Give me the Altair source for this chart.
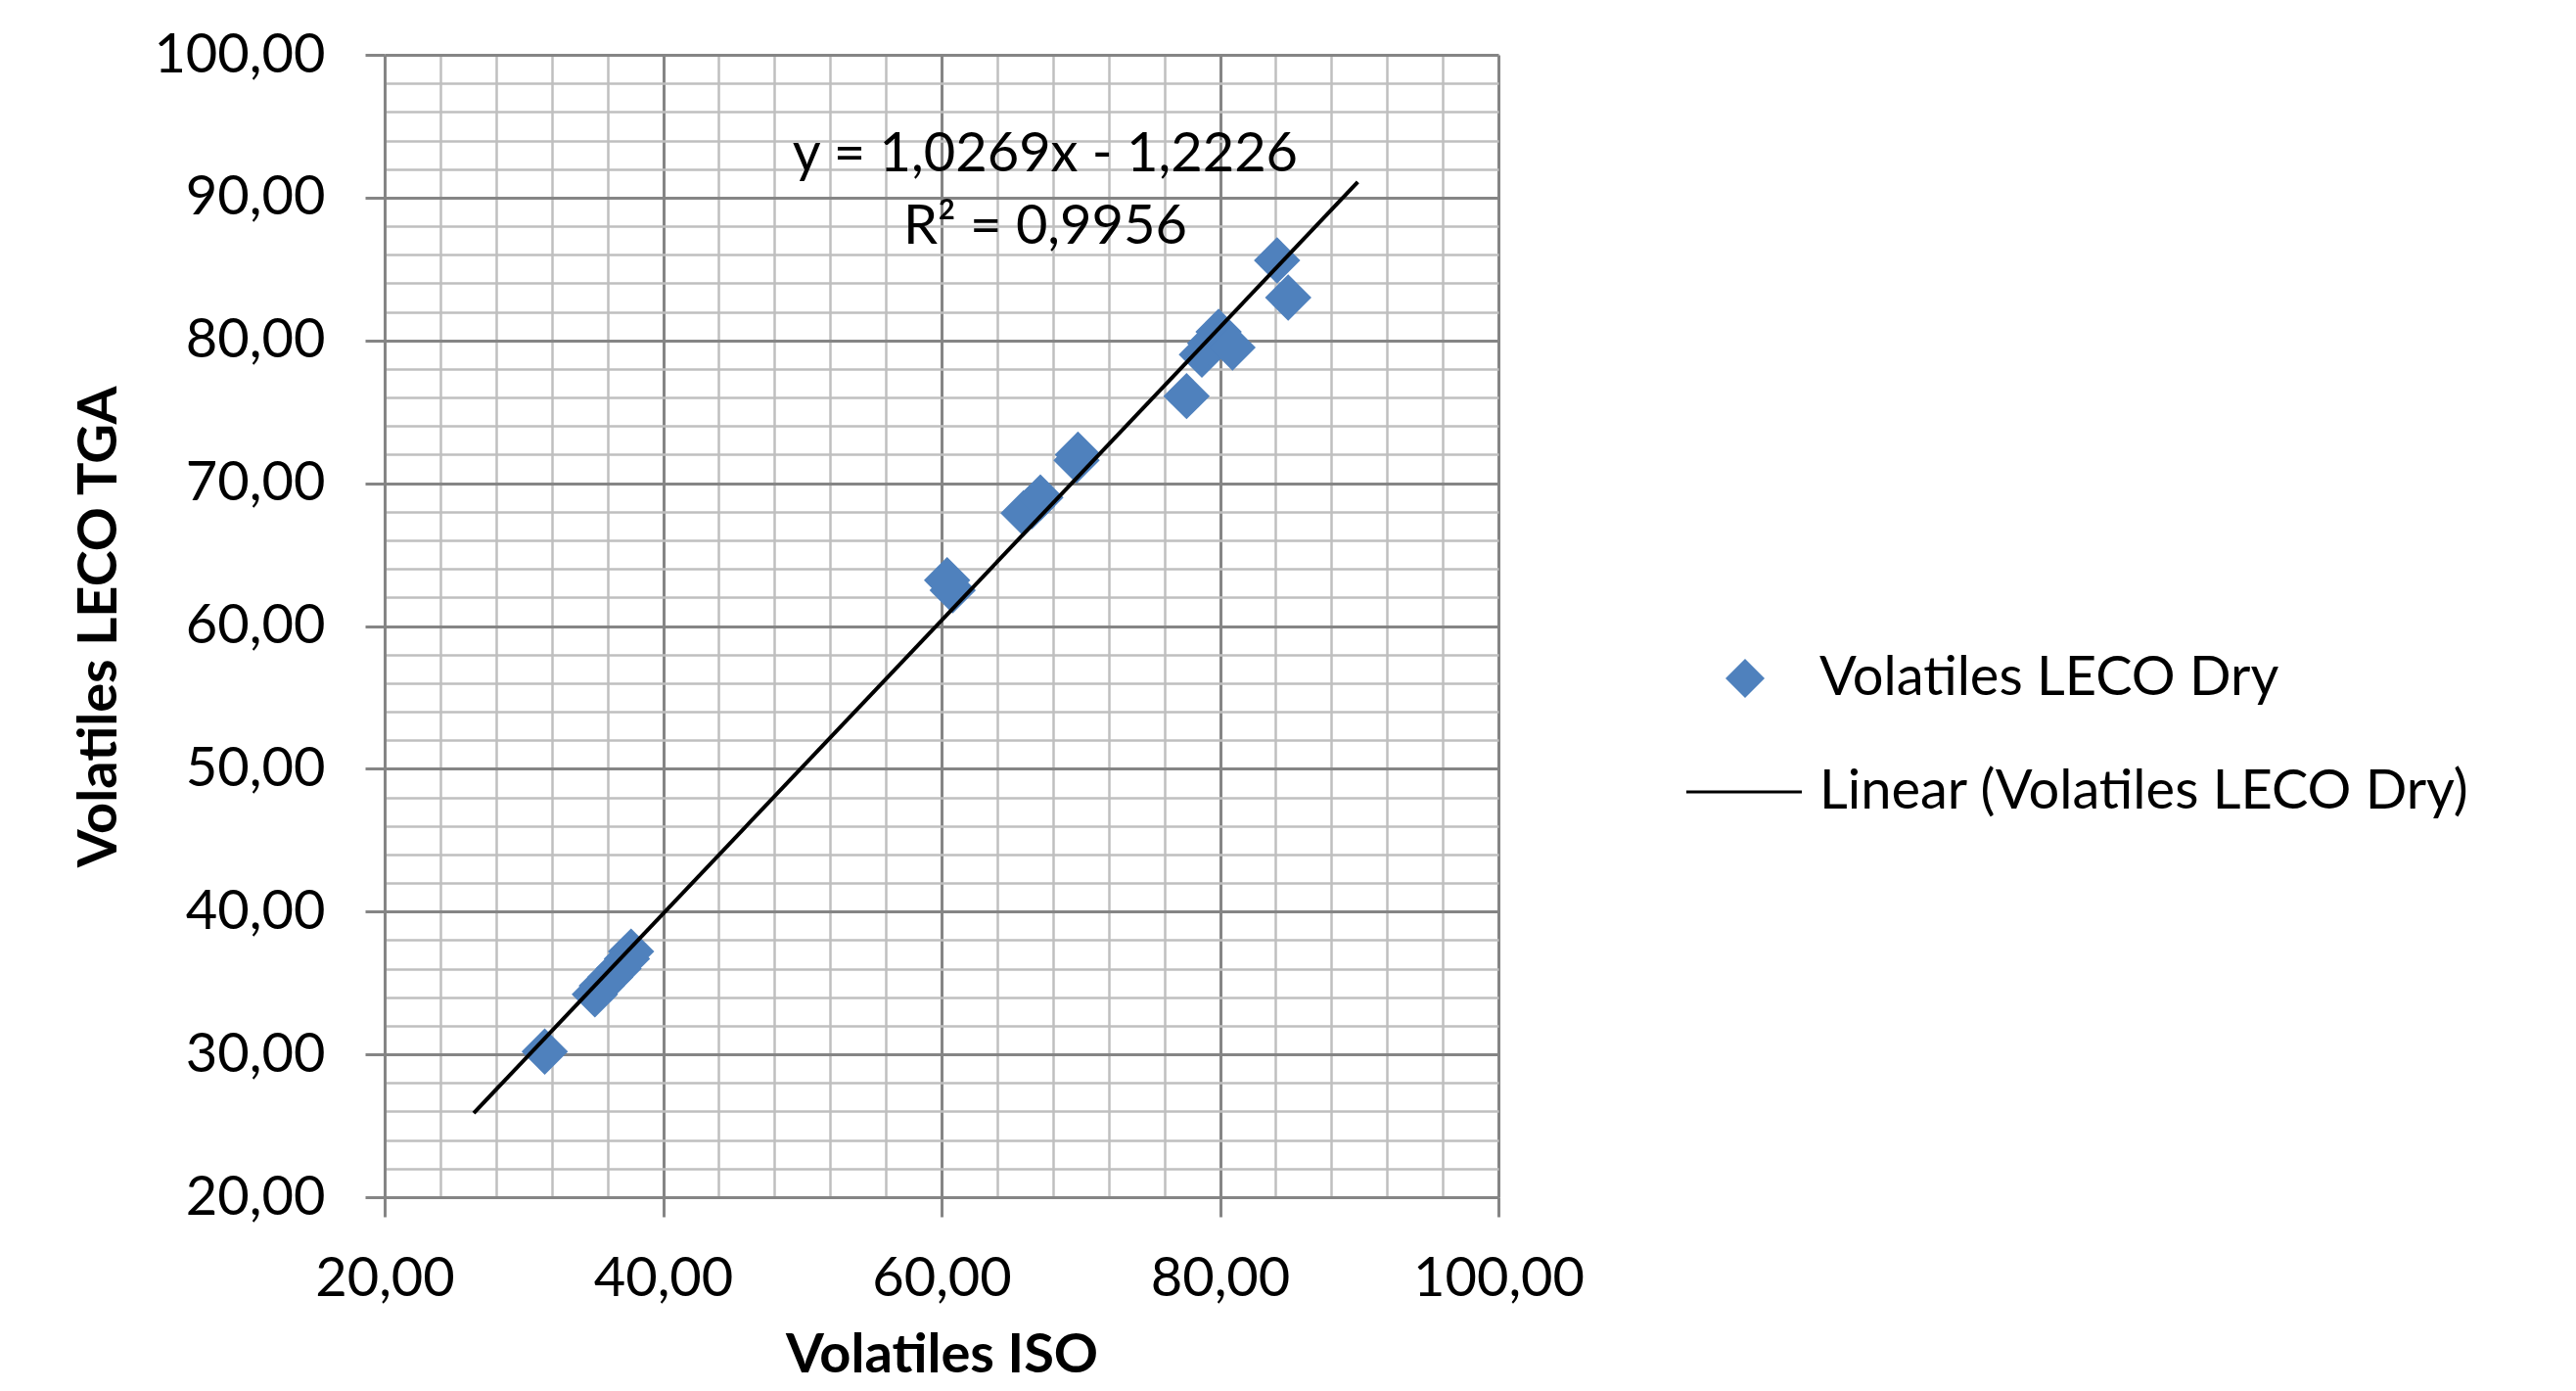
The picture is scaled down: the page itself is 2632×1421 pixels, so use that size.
import altair as alt
import pandas as pd

# ---- data ----
iso_x = [31.5, 35.1, 35.6, 36.2, 36.8, 37.4, 37.7, 60.4, 60.8, 65.9, 66.5, 67.1,
         69.7, 69.8, 77.6, 78.7, 79.3, 79.9, 80.9, 84.1, 84.9]
leco_y = [30.2, 34.2, 34.8, 35.4, 36.0, 36.7, 37.2, 63.2, 62.5, 67.9, 68.4, 69.0,
          71.6, 72.0, 76.1, 79.0, 79.8, 80.6, 79.5, 85.6, 83.0]

trend_x = [26.4, 89.9]
slope = 1.0269
intercept = -1.2226
r_squared = 0.9956

series_names = ["Volatiles LECO Dry", "Linear (Volatiles LECO Dry)"]
x_major = [20, 40, 60, 80, 100]
y_major = [20, 30, 40, 50, 60, 70, 80, 90, 100]
x_minor = [v for v in range(20, 101, 4) if v % 20]
y_minor = [v for v in range(20, 101, 2) if v % 10]

FONT = "Lato"
FS = 56
BLUE = "#4F81BD"

pts = pd.DataFrame({"iso": iso_x, "leco": leco_y, "series": series_names[0]})
trend = pd.DataFrame({
    "iso": trend_x,
    "leco": [slope * v + intercept for v in trend_x],
    "series": series_names[1],
})
eq_text = ("y = %.4fx - %.4f" % (slope, abs(intercept))).replace(".", ",")
r2_text = ("R² = %.4f" % r_squared).replace(".", ",")
labels = pd.DataFrame({"t": [eq_text]})
labels2 = pd.DataFrame({"t": [r2_text]})

xscale = alt.Scale(domain=[20, 100], nice=False, zero=False)
yscale = alt.Scale(domain=[20, 100], nice=False, zero=False)
LABEL_EXPR = "replace(format(datum.value, '.2f'), '.', ',')"

line_path = "M-3.0,-0.08L2.9,-0.08L2.9,0.08L-3.0,0.08Z"
legend = alt.Legend(
    title=None, orient="none", legendX=1362, legendY=609, padding=0,
    labelFont=FONT, labelFontSize=FS, labelColor="black", labelOffset=48,
    labelLimit=0, symbolSize=1600, rowPadding=60, symbolStrokeWidth=0,
)
color = alt.Color("series:N", scale=alt.Scale(domain=series_names, range=[BLUE, "#000000"]),
                  legend=legend)
shape = alt.Shape("series:N", scale=alt.Scale(domain=series_names, range=["diamond", line_path]),
                  legend=legend)

minor_x_axis = alt.Axis(orient="bottom", values=x_minor, grid=True, gridColor="#BFBFBF",
                        gridWidth=2.5, labels=False, ticks=False, domain=False, title=None)
minor_y_axis = alt.Axis(orient="left", values=y_minor, grid=True, gridColor="#BFBFBF",
                        gridWidth=2.5, labels=False, ticks=False, domain=False, title=None)

major_x_axis = alt.Axis(
    orient="bottom", values=x_major, grid=True, gridColor="#858585", gridWidth=3,
    domain=True, domainColor="#858585", domainWidth=3,
    ticks=True, tickSize=20, tickColor="#858585", tickWidth=3,
    labelExpr=LABEL_EXPR, labelFont=FONT, labelFontSize=FS, labelColor="black",
    labelPadding=36, labelBaseline="top", labelFlush=False,
    title="Volatiles ISO", titleFont=FONT, titleFontSize=FS, titleFontWeight="bold",
    titleColor="black", titleX=569, titleY=161, titleBaseline="middle", titleAlign="center",
)
major_y_axis = alt.Axis(
    orient="left", values=y_major, grid=True, gridColor="#858585", gridWidth=3,
    domain=True, domainColor="#858585", domainWidth=3,
    ticks=True, tickSize=20, tickColor="#858585", tickWidth=3,
    labelExpr=LABEL_EXPR, labelFont=FONT, labelFontSize=FS, labelColor="black",
    labelPadding=41, labelFlush=False,
    title="Volatiles LECO TGA", titleFont=FONT, titleFontSize=FS, titleFontWeight="bold",
    titleColor="black", titleX=-292, titleY=584, titleAngle=270,
    titleBaseline="middle", titleAlign="center",
)

points_layer = alt.Chart(pts).mark_point(filled=True, opacity=1, size=2250, strokeWidth=0).encode(
    x=alt.X("iso:Q", scale=xscale, axis=minor_x_axis),
    y=alt.Y("leco:Q", scale=yscale, axis=minor_y_axis),
    color=color,
    shape=shape,
)

trend_layer = alt.Chart(trend).mark_line(strokeWidth=4).encode(
    x=alt.X("iso:Q", scale=xscale, axis=major_x_axis),
    y=alt.Y("leco:Q", scale=yscale, axis=major_y_axis),
    color=color,
)

eq_layer = alt.Chart(labels).mark_text(
    font=FONT, fontSize=FS, color="black", align="center", baseline="middle"
).encode(
    x=alt.XDatum(67.45, axis=None),
    y=alt.YDatum(93.0, axis=None),
    text="t:N",
)
r2_layer = alt.Chart(labels2).mark_text(
    font=FONT, fontSize=FS, color="black", align="center", baseline="middle"
).encode(
    x=alt.XDatum(67.45, axis=None),
    y=alt.YDatum(87.95, axis=None),
    text="t:N",
)

chart = alt.layer(points_layer, trend_layer, eq_layer, r2_layer).resolve_axis(
    x="independent", y="independent"
).properties(
    width=1138, height=1167,
    padding={"left": 385, "top": 48, "right": 1080, "bottom": 190},
    autosize=alt.AutoSizeParams(type="none"),
    background="white",
).configure_view(stroke=None)

chart.save("out.html", embed_options={"renderer": "svg", "actions": False})
